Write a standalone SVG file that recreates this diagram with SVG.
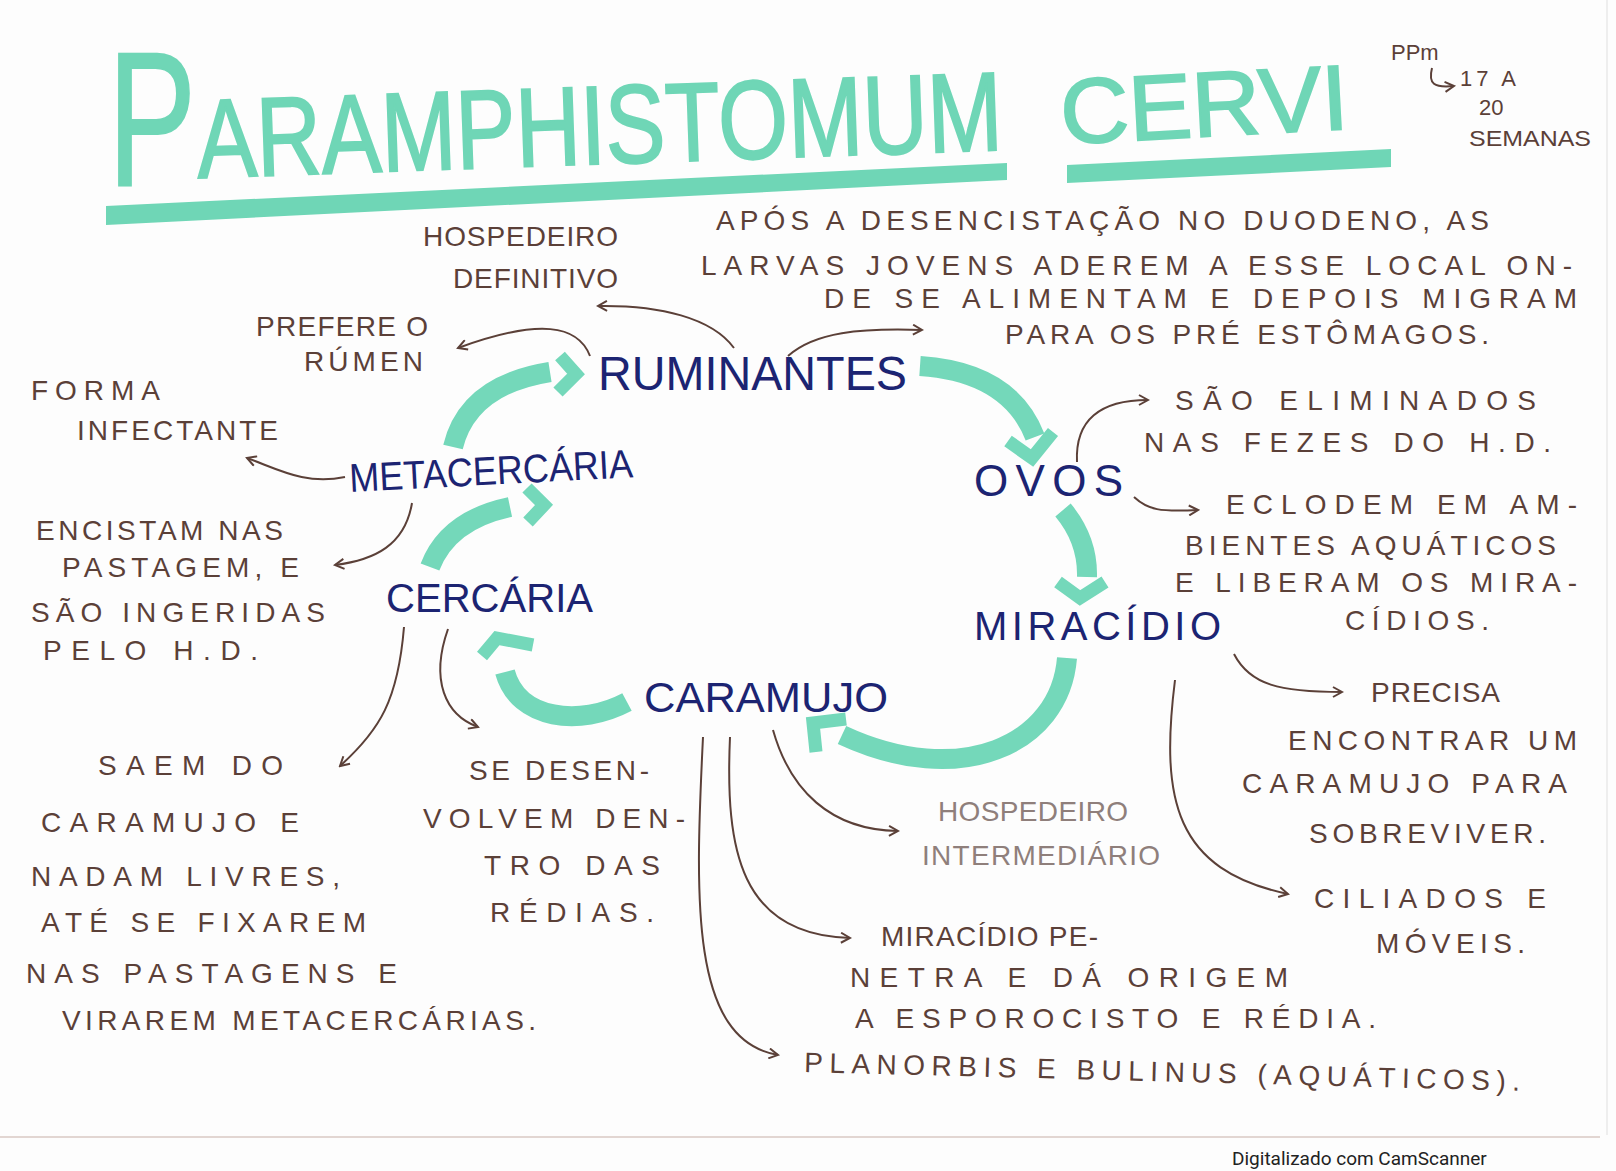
<svg xmlns="http://www.w3.org/2000/svg" width="1616" height="1171" viewBox="0 0 1616 1171">
<style>
.t{font-family:"Liberation Sans",Arial,sans-serif;font-size:28px;fill:#5b4038}
.tl{font-family:"Liberation Sans",Arial,sans-serif;font-size:28px;fill:#8f7f7b}
.p{font-family:"Liberation Sans",Arial,sans-serif;font-size:22px;fill:#5b4038}
.n{font-family:"Liberation Sans",Arial,sans-serif;fill:#1c2472}
.ti{font-family:"Liberation Sans",Arial,sans-serif;fill:#6fd6b6;stroke:#6fd6b6;stroke-width:2}
.c{fill:none;stroke:#5b4038;stroke-width:2;marker-end:url(#ah)}
.b{fill:none;stroke:#74d8ba;stroke-width:20;stroke-linecap:butt}
.h{fill:none;stroke:#74d8ba;stroke-width:13;stroke-linejoin:miter;stroke-linecap:butt}
.band{fill:#6fd6b6}
</style>
<defs>
<marker id="ah" viewBox="0 0 12 12" refX="10" refY="6" markerWidth="12" markerHeight="12" markerUnits="userSpaceOnUse" orient="auto">
<path d="M1,1 L10,6 L1,11" fill="none" stroke="#5b4038" stroke-width="2"/>
</marker>
</defs>
<rect width="1616" height="1171" fill="#fdfdfd"/>
<line x1="0" y1="1137" x2="1600" y2="1137" stroke="#e2d6d2" stroke-width="2"/>
<line x1="1607" y1="0" x2="1607" y2="1135" stroke="#eeeeee" stroke-width="2"/>

<g id="title">
<text class="ti" x="108" y="185" font-size="192" textLength="88" lengthAdjust="spacingAndGlyphs">P</text>
<text class="ti" x="198" y="178" font-size="112" textLength="806" lengthAdjust="spacingAndGlyphs" transform="rotate(-2 198 178)">ARAMPHISTOMUM</text>
<text class="ti" x="1062" y="144" font-size="92" textLength="288" lengthAdjust="spacingAndGlyphs" transform="rotate(-3 1062 144)">CERVI</text>
<polygon class="band" points="106,206 1007,163 1007,180 106,225"/>
<polygon class="band" points="1067,165 1391,149 1391,167 1067,183"/>
</g>

<g id="ppm">
<text class="p" x="1391" y="60" font-size="26">PPm</text>
<text class="p" x="1460" y="86" textLength="56" lengthAdjust="spacing">17 A</text>
<text class="p" x="1479" y="115">20</text>
<text class="p" x="1469" y="146" textLength="122" lengthAdjust="spacingAndGlyphs">SEMANAS</text>
</g>

<g id="connectors">
<path class="c" d="M1432,68 C1428,84 1434,88 1454,86"/>
<path class="c" d="M590,356 C578,325 540,318 458,348"/>
<path class="c" d="M734,348 C712,318 660,305 598,306"/>
<path class="c" d="M788,356 C815,332 860,328 922,330"/>
<path class="c" d="M345,477 C305,485 280,470 247,458"/>
<path class="c" d="M412,503 C405,545 375,560 335,565"/>
<path class="c" d="M404,627 C398,700 380,730 340,766"/>
<path class="c" d="M448,629 C430,680 445,715 478,727"/>
<path class="c" d="M1077,462 C1075,420 1100,400 1148,400"/>
<path class="c" d="M1134,497 C1148,510 1160,512 1198,510"/>
<path class="c" d="M1234,654 C1250,685 1280,692 1342,692"/>
<path class="c" d="M1175,680 C1160,800 1175,870 1288,894"/>
<path class="c" d="M773,730 C790,790 830,830 898,831"/>
<path class="c" d="M730,737 C725,850 740,935 850,938"/>
<path class="c" d="M703,737 C695,900 690,1040 778,1055"/>

<path class="b" d="M453,447 Q468,385 550,372"/>
<path class="h" d="M560,356 L576,374 L558,392"/>
<path class="b" d="M920,366 Q1010,372 1035,437"/>
<path class="h" d="M1008,441 L1032,458 L1053,432"/>
<path class="b" d="M1063,510 Q1088,540 1087,577"/>
<path class="h" d="M1058,582 L1080,598 L1105,582"/>
<path class="b" d="M1067,658 C1060,745 960,790 842,735"/>
<path class="h" d="M846,719 L813,723 L816,752"/>
<path class="b" d="M627,702 C580,727 518,720 505,672"/>
<path class="h" d="M482,656 L497,638 L533,645"/>
<path class="b" d="M430,567 Q448,520 510,507"/>
<path class="h" d="M527,488 L544,505 L528,522"/>
</g>

<g id="ruminantes"><text class="n" x="598" y="390" font-size="48" textLength="309" lengthAdjust="spacingAndGlyphs">RUMINANTES</text></g>
<g id="ovos"><text class="n" x="974" y="496" font-size="44" textLength="149" lengthAdjust="spacing">OVOS</text></g>
<g id="miracidio"><text class="n" x="974" y="640" font-size="40" textLength="247" lengthAdjust="spacing">MIRACÍDIO</text></g>
<g id="caramujo"><text class="n" x="644" y="712" font-size="42" textLength="244" lengthAdjust="spacingAndGlyphs">CARAMUJO</text></g>
<g id="cercaria"><text class="n" x="386" y="612" font-size="40" textLength="207" lengthAdjust="spacingAndGlyphs">CERCÁRIA</text></g>
<g id="metacercaria"><text class="n" x="350" y="492" font-size="40" textLength="284" lengthAdjust="spacingAndGlyphs" transform="rotate(-3 350 492)">METACERCÁRIA</text></g>

<g id="hospedeiro-definitivo">
<text class="t" x="423" y="246" textLength="195" lengthAdjust="spacing">HOSPEDEIRO</text>
<text class="t" x="453" y="288" textLength="165" lengthAdjust="spacing">DEFINITIVO</text>
</g>
<g id="prefere-rumen">
<text class="t" x="256" y="336" textLength="172" lengthAdjust="spacing">PREFERE O</text>
<text class="t" x="304" y="371" textLength="119" lengthAdjust="spacing">RÚMEN</text>
</g>
<g id="forma-infectante">
<text class="t" x="31" y="400" textLength="129" lengthAdjust="spacing">FORMA</text>
<text class="t" x="77" y="440" textLength="201" lengthAdjust="spacing">INFECTANTE</text>
</g>
<g id="apos">
<text class="t" x="716" y="230" textLength="773" lengthAdjust="spacing">APÓS A DESENCISTAÇÃO NO DUODENO, AS</text>
<text class="t" x="701" y="275" textLength="871" lengthAdjust="spacing">LARVAS JOVENS ADEREM A ESSE LOCAL ON-</text>
<text class="t" x="824" y="308" textLength="753" lengthAdjust="spacing">DE SE ALIMENTAM E DEPOIS MIGRAM</text>
<text class="t" x="1005" y="344" textLength="484" lengthAdjust="spacing">PARA OS PRÉ ESTÔMAGOS.</text>
</g>
<g id="sao-eliminados">
<text class="t" x="1175" y="410" textLength="361" lengthAdjust="spacing">SÃO ELIMINADOS</text>
<text class="t" x="1144" y="452" textLength="407" lengthAdjust="spacing">NAS FEZES DO H.D.</text>
</g>
<g id="eclodem">
<text class="t" x="1226" y="514" textLength="351" lengthAdjust="spacing">ECLODEM EM AM-</text>
<text class="t" x="1185" y="555" textLength="371" lengthAdjust="spacing">BIENTES AQUÁTICOS</text>
<text class="t" x="1175" y="592" textLength="402" lengthAdjust="spacing">E LIBERAM OS MIRA-</text>
<text class="t" x="1345" y="630" textLength="144" lengthAdjust="spacing">CÍDIOS.</text>
</g>
<g id="precisa">
<text class="t" x="1371" y="702" textLength="129" lengthAdjust="spacing">PRECISA</text>
<text class="t" x="1288" y="750" textLength="289" lengthAdjust="spacing">ENCONTRAR UM</text>
<text class="t" x="1242" y="793" textLength="325" lengthAdjust="spacing">CARAMUJO PARA</text>
<text class="t" x="1309" y="843" textLength="237" lengthAdjust="spacing">SOBREVIVER.</text>
</g>
<g id="ciliados">
<text class="t" x="1314" y="908" textLength="232" lengthAdjust="spacing">CILIADOS E</text>
<text class="t" x="1376" y="953" textLength="149" lengthAdjust="spacing">MÓVEIS.</text>
</g>
<g id="hospedeiro-intermediario">
<text class="tl" x="938" y="821" textLength="190" lengthAdjust="spacing">HOSPEDEIRO</text>
<text class="tl" x="922" y="865" textLength="238" lengthAdjust="spacing">INTERMEDIÁRIO</text>
</g>
<g id="miracidio-penetra">
<text class="t" x="881" y="946" textLength="217" lengthAdjust="spacing">MIRACÍDIO PE-</text>
<text class="t" x="850" y="987" textLength="438" lengthAdjust="spacing">NETRA E DÁ ORIGEM</text>
<text class="t" x="855" y="1028" textLength="521" lengthAdjust="spacing">A ESPOROCISTO E RÉDIA.</text>
</g>
<g id="planorbis">
<text class="t" x="804" y="1072" font-size="31" textLength="716" lengthAdjust="spacing" transform="rotate(1.5 804 1072)">PLANORBIS E BULINUS (AQUÁTICOS).</text>
</g>
<g id="encistam">
<text class="t" x="36" y="540" textLength="247" lengthAdjust="spacing">ENCISTAM NAS</text>
<text class="t" x="62" y="577" textLength="237" lengthAdjust="spacing">PASTAGEM, E</text>
<text class="t" x="31" y="622" textLength="294" lengthAdjust="spacing">SÃO INGERIDAS</text>
<text class="t" x="43" y="660" textLength="215" lengthAdjust="spacing">PELO H.D.</text>
</g>
<g id="saem">
<text class="t" x="98" y="775" textLength="185" lengthAdjust="spacing">SAEM DO</text>
<text class="t" x="41" y="832" textLength="258" lengthAdjust="spacing">CARAMUJO E</text>
<text class="t" x="31" y="886" textLength="309" lengthAdjust="spacing">NADAM LIVRES,</text>
<text class="t" x="41" y="932" textLength="325" lengthAdjust="spacing">ATÉ SE FIXAREM</text>
<text class="t" x="26" y="983" textLength="371" lengthAdjust="spacing">NAS PASTAGENS E</text>
<text class="t" x="62" y="1030" textLength="474" lengthAdjust="spacing">VIRAREM METACERCÁRIAS.</text>
</g>
<g id="se-desenvolvem">
<text class="t" x="469" y="780" textLength="180" lengthAdjust="spacing">SE DESEN-</text>
<text class="t" x="423" y="828" textLength="262" lengthAdjust="spacing">VOLVEM DEN-</text>
<text class="t" x="484" y="875" textLength="176" lengthAdjust="spacing">TRO DAS</text>
<text class="t" x="490" y="922" textLength="164" lengthAdjust="spacing">RÉDIAS.</text>
</g>

<g id="footer">
<text x="1232" y="1165" font-family="Roboto,'Liberation Sans',sans-serif" font-size="19" fill="#222">Digitalizado com CamScanner</text>
</g>
</svg>
